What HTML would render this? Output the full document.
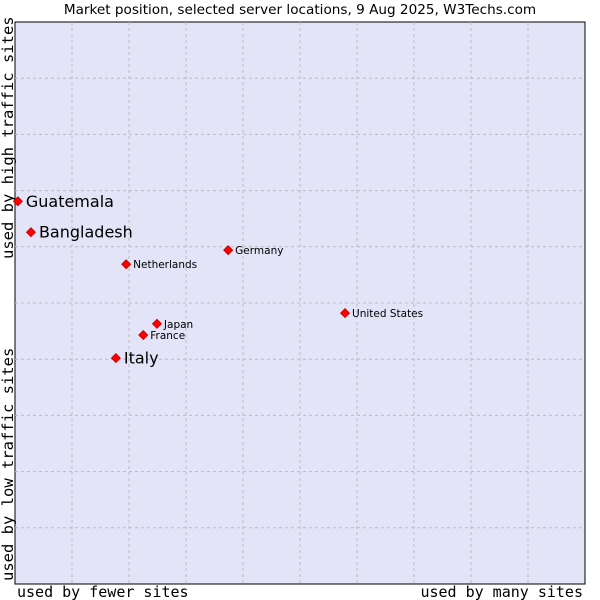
<!DOCTYPE html>
<html><head><meta charset="utf-8"><style>
body{margin:0;background:#fff;width:600px;height:600px;overflow:hidden}
svg{display:block}
</style></head><body>
<svg id="chart" width="600" height="600" xmlns="http://www.w3.org/2000/svg" font-family="'DejaVu Sans', 'Liberation Sans', sans-serif">
<text x="300" y="14" text-anchor="middle" font-size="13.6" fill="#000">Market position, selected server locations, 9 Aug 2025, W3Techs.com</text>
<rect x="15" y="22" width="570" height="562" fill="#e3e4f8" stroke="#000" stroke-width="1"/>
<g id="grid"></g>
<text x="17" y="597" font-size="15" font-family="'DejaVu Sans Mono', 'Liberation Mono', monospace">used by fewer sites</text>
<text x="583" y="597" text-anchor="end" font-size="15" font-family="'DejaVu Sans Mono', 'Liberation Mono', monospace">used by many sites</text>
<text transform="translate(13,581) rotate(-90)" font-size="15.5" font-family="'DejaVu Sans Mono', 'Liberation Mono', monospace">used by low traffic sites</text>
<text transform="translate(13,259) rotate(-90)" font-size="15.5" font-family="'DejaVu Sans Mono', 'Liberation Mono', monospace">used by high traffic sites</text>
<g id="points"></g>
</svg>
<script>
const countries = ["Guatemala","Bangladesh","Germany","Netherlands","United States","Japan","France","Italy"];
const xValues = [0.5, 2.8, 37.4, 19.5, 57.9, 24.9, 22.5, 17.7];
const yValues = [68.1, 62.6, 59.4, 56.9, 48.2, 46.3, 44.3, 40.2];
const bigLabel = [true, true, false, false, false, false, false, true];

const L=15,T=22,W=570,H=562;
const sx=v=>L+v/100*W;
const sy=v=>T+H-v/100*H;
const NS="http://www.w3.org/2000/svg";
const grid=document.getElementById('grid');
for(let i=1;i<10;i++){
  const v=document.createElementNS(NS,'line');
  v.setAttribute('x1',sx(i*10));v.setAttribute('x2',sx(i*10));
  v.setAttribute('y1',T);v.setAttribute('y2',T+H);
  v.setAttribute('stroke','#bbbbbb');v.setAttribute('stroke-dasharray','3,3');
  
  
  grid.appendChild(v);
  const h=document.createElementNS(NS,'line');
  h.setAttribute('y1',sy(i*10));h.setAttribute('y2',sy(i*10));
  h.setAttribute('x1',L);h.setAttribute('x2',L+W);
  h.setAttribute('stroke','#bbbbbb');h.setAttribute('stroke-dasharray','3,3');
  
  
  grid.appendChild(h);
}
const pts=document.getElementById('points');
countries.forEach((c,i)=>{
  const x=sx(xValues[i]),y=sy(yValues[i]);
  const p=document.createElementNS(NS,'polygon');
  p.setAttribute('points',`${x},${y-4.5} ${x+4.5},${y} ${x},${y+4.5} ${x-4.5},${y}`);
  p.setAttribute('fill','#ff0000');p.setAttribute('stroke','#c00000');p.setAttribute('stroke-width','0.8');
  
  
  pts.appendChild(p);
  const t=document.createElementNS(NS,'text');
  const big=bigLabel[i];
  t.setAttribute('x',x+(big?8:7));
  t.setAttribute('y',y+(big?5.5:4));
  t.setAttribute('font-size',big?'16':'10.5');
  t.textContent=c;
  
  
  pts.appendChild(t);
});
</script>
</body></html>
